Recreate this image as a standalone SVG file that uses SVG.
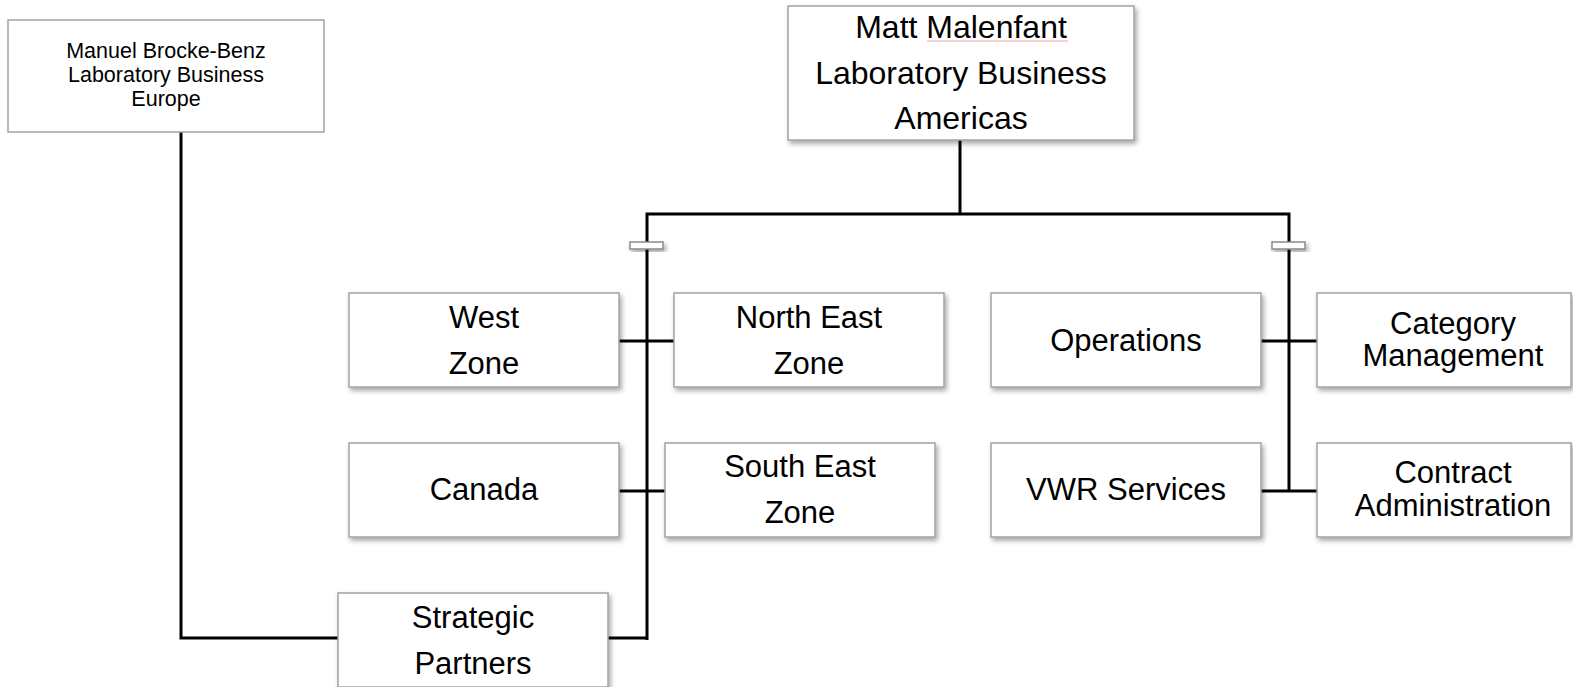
<svg xmlns="http://www.w3.org/2000/svg" width="1573" height="687" viewBox="0 0 1573 687">
<style>
.box{fill:#ffffff;stroke:#a3a3a3;stroke-width:1.5}
.t{font-family:"Liberation Sans",Arial,sans-serif;font-size:31px;fill:#000;text-anchor:middle}
.big{font-size:32px}
.small{font-size:21.5px}
.ln{fill:none;stroke:#000;stroke-width:3}
.mk{fill:#fff;stroke:#8a8a8a;stroke-width:1.5}
</style>
<defs>
<filter id="sh" x="-10%" y="-10%" width="130%" height="140%">
<feDropShadow dx="2" dy="3" stdDeviation="2.5" flood-color="#000" flood-opacity="0.35"/>
</filter>
</defs>
<rect width="1573" height="687" fill="#ffffff"/>
<g id="connectors">
<path class="ln" d="M960,140 V214"/>
<path class="ln" d="M647,640 V214 H1289 V491"/>
<path class="ln" d="M619,341 H674"/>
<path class="ln" d="M619,491 H665"/>
<path class="ln" d="M1261,341 H1317"/>
<path class="ln" d="M1261,491 H1317"/>
<path class="ln" d="M181,132 V638 H338"/>
<path class="ln" d="M608,638 H647"/>
<rect class="mk" x="630" y="242" width="33" height="7" filter="url(#sh)"/>
<rect class="mk" x="1272" y="242" width="33" height="7" filter="url(#sh)"/>
</g>
<g id="europe">
<rect class="box" x="8" y="20" width="316" height="112"/>
<text class="t small" x="166" y="58">Manuel Brocke-Benz</text>
<text class="t small" x="166" y="82">Laboratory Business</text>
<text class="t small" x="166" y="106">Europe</text>
</g>
<g id="matt">
<rect class="box" x="788" y="6" width="346" height="134" filter="url(#sh)"/>
<text class="t big" x="961" y="38">Matt Malenfant</text>
<text class="t big" x="961" y="84">Laboratory Business</text>
<text class="t big" x="961" y="129">Americas</text>
<path d="M927,41 H1068" stroke="#f4a0a0" stroke-width="1" fill="none"/>
</g>
<g id="west">
<rect class="box" x="349" y="293" width="270" height="94" filter="url(#sh)"/>
<text class="t" x="484" y="328">West</text>
<text class="t" x="484" y="374">Zone</text>
</g>
<g id="northeast">
<rect class="box" x="674" y="293" width="270" height="94" filter="url(#sh)"/>
<text class="t" x="809" y="328">North East</text>
<text class="t" x="809" y="374">Zone</text>
</g>
<g id="canada">
<rect class="box" x="349" y="443" width="270" height="94" filter="url(#sh)"/>
<text class="t" x="484" y="500">Canada</text>
</g>
<g id="southeast">
<rect class="box" x="665" y="443" width="270" height="94" filter="url(#sh)"/>
<text class="t" x="800" y="477">South East</text>
<text class="t" x="800" y="523">Zone</text>
</g>
<g id="operations">
<rect class="box" x="991" y="293" width="270" height="94" filter="url(#sh)"/>
<text class="t" x="1126" y="351">Operations</text>
</g>
<g id="category">
<rect class="box" x="1317" y="293" width="254" height="94" filter="url(#sh)"/>
<text class="t" x="1453" y="334">Category</text>
<text class="t" x="1453" y="366">Management</text>
</g>
<g id="vwr">
<rect class="box" x="991" y="443" width="270" height="94" filter="url(#sh)"/>
<text class="t" x="1126" y="500">VWR Services</text>
</g>
<g id="contract">
<rect class="box" x="1317" y="443" width="254" height="94" filter="url(#sh)"/>
<text class="t" x="1453" y="483">Contract</text>
<text class="t" x="1453" y="516">Administration</text>
</g>
<g id="strategic">
<rect class="box" x="338" y="593" width="270" height="94" filter="url(#sh)"/>
<text class="t" x="473" y="628">Strategic</text>
<text class="t" x="473" y="674">Partners</text>
</g>
</svg>
